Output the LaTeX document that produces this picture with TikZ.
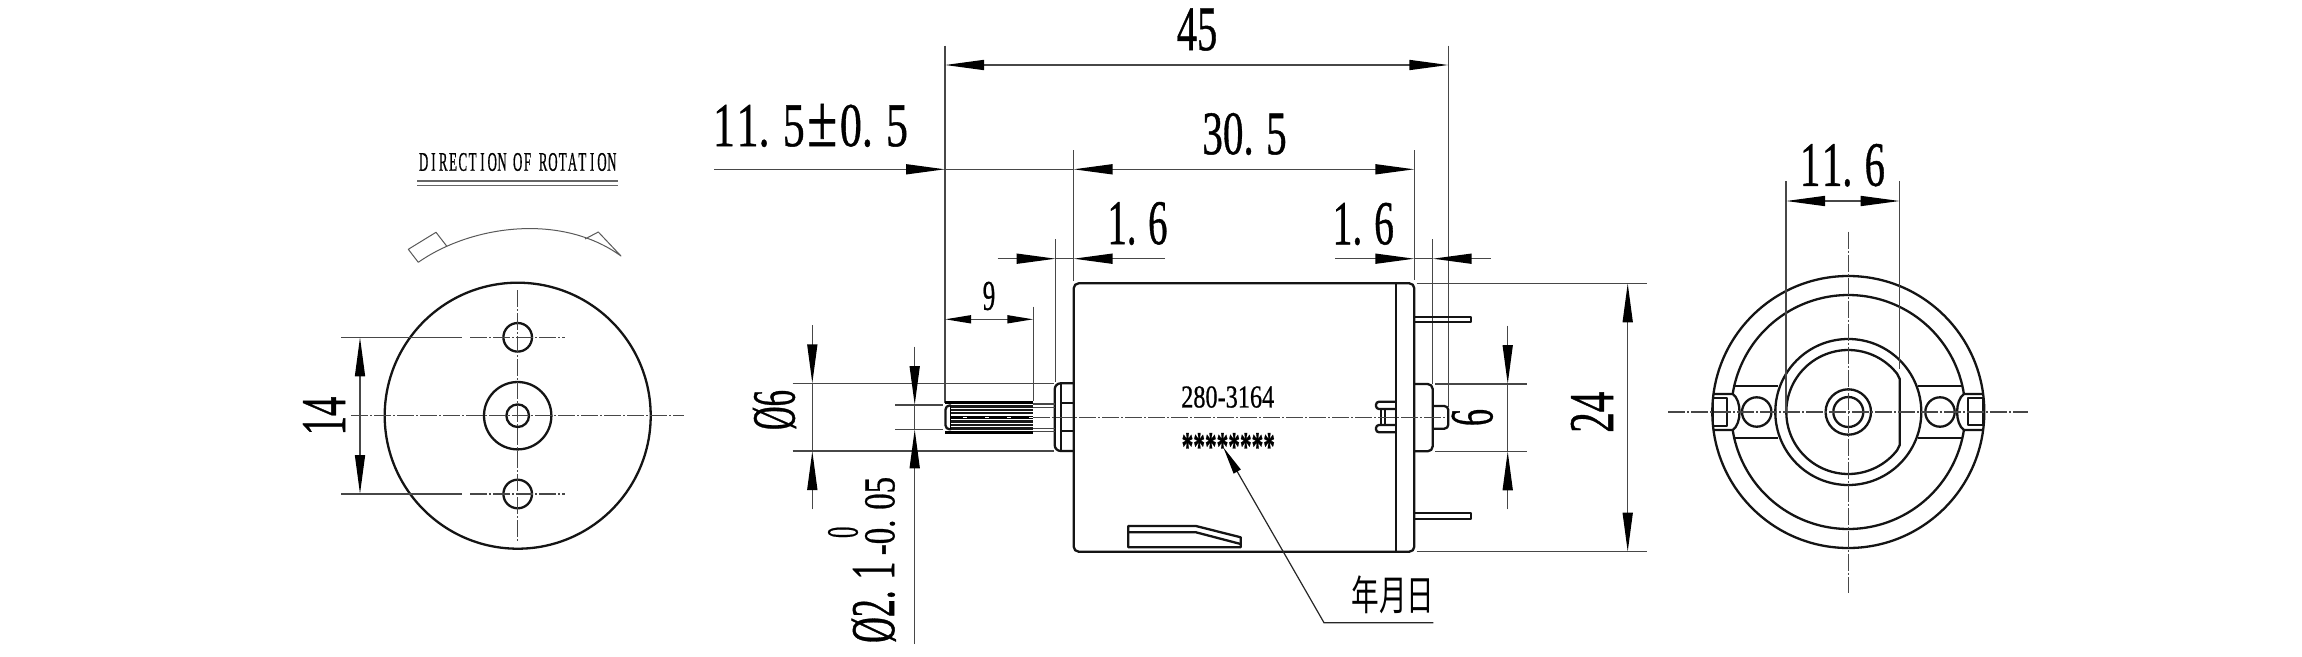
\documentclass[tikz,border=0pt]{standalone}
\usepackage{fontspec}
\usepackage{graphicx}
\usetikzlibrary{arrows.meta}
\setmainfont[FakeBold=0.8]{Liberation Serif}
\newfontfamily\cjkf{Noto Sans CJK SC}
\newcommand{\lbl}[7][]{\node[inner sep=0pt,outer sep=0pt,#1] (#2) at (#3,#4) {\resizebox*{#5pt}{#6pt}{#7}};}
\newcommand{\dt}{.\kern.3em }
\newcommand{\phisym}{\rule{0pt}{.68em}\smash{Ø}}
\newcommand{\plusmin}{\resizebox*{.68em}{.676em}{±}}
\makeatletter
\newcommand{\monow}[1]{\@tfor\mc:=#1\do{\makebox[.76em]{\mc}}}
\makeatother
\tikzset{
  part/.style={line width=2.3pt,black!92,line join=round},
  thinl/.style={line width=1.5pt,black!72},
  dimend/.style={thinl,-{Triangle[length=39pt,width=10pt,black]}},
  dimboth/.style={thinl,{Triangle[length=39pt,width=10pt,black]}-{Triangle[length=39pt,width=10pt,black]}},
  smallboth/.style={thinl,{Triangle[length=26pt,width=8pt,black]}-{Triangle[length=26pt,width=8pt,black]}},
  centre/.style={line width=1.4pt,black!72,dash pattern=on 17pt off 2pt on 2pt off 2pt},
  sketch/.style={line width=1pt,black!65,line join=round},
}
\begin{document}
\begin{tikzpicture}[x=1pt,y=-1pt]
\useasboundingbox (0,0) rectangle (2302,656);
\fill[white] (0,0) rectangle (2302,656);

% ---------- left view
\lbl{rottext}{517.7}{162}{198}{18}{\monow{DIRECTION}\kern.45em\monow{OF}\kern.45em\monow{ROTATION}}
\draw[line width=1.3pt,black!60] (417,181) -- (618,181) (417,185.7) -- (618,185.7);
\draw[sketch] (418.3,262.3) .. controls (470,226) and (560,212) .. (621,256) -- (598.3,232) -- (585,239);
\draw[sketch] (418.3,262.3) -- (408.3,249.3) -- (436,232.3) -- (447,246.5);
\draw[part] (517.7,415.7) circle (133pt);
\draw[part] (517.7,415.7) circle (33.7pt);
\draw[part] (517.7,415.7) circle (11.3pt);
\draw[part] (517.7,337.3) circle (14.3pt);
\draw[part] (517.7,494) circle (14.3pt);
\draw[centre] (351,415.7) -- (684,415.7);
\draw[centre] (517.7,290) -- (517.7,541);
\draw[thinl] (341,337.3) -- (461.7,337.3) (341,494) -- (461.7,494);
\draw[centre] (470,337.3) -- (565,337.3);
\draw[centre] (470,494) -- (565,494);
\draw[dimboth] (360,337.3) -- (360,494);
\lbl[rotate=90]{d14}{324}{416}{38.5}{42}{14}

% ---------- main view: dimensions
\draw[thinl] (945,45.7) -- (945,402.7);
\draw[thinl] (1448.3,45.7) -- (1448.3,407);
\draw[thinl] (1073.5,150) -- (1073.5,281);
\draw[thinl] (1414.3,150) -- (1414.3,280);
\draw[thinl] (1055.7,239) -- (1055.7,382);
\draw[thinl] (1432.7,239) -- (1432.7,384);
\draw[thinl] (1033.3,306.7) -- (1033.3,401);
\draw[dimboth] (945,65) -- (1448.3,65);
\draw[dimboth] (1073.5,169.3) -- (1414.3,169.3);
\draw[dimend] (714,169.3) -- (945,169.3);
\draw[thinl] (945,169.3) -- (1073.5,169.3);
\draw[dimend] (997.7,258.7) -- (1055.7,258.7);
\draw[thinl] (1055.7,258.7) -- (1073.5,258.7);
\draw[dimend] (1165,258.7) -- (1073.5,258.7);
\draw[dimend] (1335,258.7) -- (1414.3,258.7);
\draw[thinl] (1414.3,258.7) -- (1432.7,258.7);
\draw[dimend] (1490.7,258.7) -- (1432.7,258.7);
\draw[smallboth] (945,319.3) -- (1033.3,319.3);
\lbl{d45}{1197}{29.5}{40.6}{42.4}{45}
\lbl{d305}{1244.5}{134}{84.4}{42}{30\dt 5}
\lbl{d115}{810.5}{125.5}{195}{43}{1\kern.04em 1\dt 5\kern.06em \plusmin\kern.06em 0\dt 5}
\lbl{d16a}{1137.5}{223.5}{60}{43}{1\dt 6}
\lbl{d16b}{1363.3}{224}{61.3}{42.3}{1\dt 6}
\lbl{d9}{989}{296}{12.5}{28.5}{9}

% ---------- main view: body
\draw[part,rounded corners=5pt] (1073.7,283.3) rectangle (1414.3,551.7);
\draw[part] (1395.7,283.3) -- (1395.7,551.7);
\draw[part] (1414.3,316.7) -- (1471,316.7) -- (1471,322) -- (1414.3,322);
\draw[part] (1414.3,513.3) -- (1471,513.3) -- (1471,519) -- (1414.3,519);
\draw[part,rounded corners=5pt] (1414.3,384) -- (1432.7,384) -- (1432.7,451.3) -- (1414.3,451.3);
\draw[part,rounded corners=4pt] (1432.7,406) -- (1448.3,406) -- (1448.3,428.7) -- (1432.7,428.7);
\draw[part,rounded corners=3pt] (1395.7,401.7) -- (1376,401.7) -- (1376,409) -- (1395.7,409);
\draw[part,rounded corners=3pt] (1395.7,425) -- (1376,425) -- (1376,432.3) -- (1395.7,432.3);
\draw[part] (1380.7,409) -- (1380.7,425) (1385,409) -- (1385,425);
% label plate
\draw[part] (1128.3,526) -- (1196,526) -- (1240.7,537.3) -- (1240.7,547.3) -- (1128.3,547.3) -- cycle;
\draw[part] (1128.3,532.3) -- (1196,532.3) -- (1240.7,544);
% boss
\draw[part,rounded corners=6pt] (1074,383.3) -- (1054.7,383.3) -- (1054.7,451) -- (1074,451);
\draw[part] (1061.3,383.3) -- (1061.3,451) (1061.3,402.7) -- (1074,402.7) (1061.3,430.7) -- (1074,430.7);
% shaft
\draw[thinl] (1033.3,404) -- (1055,404) (1033.3,407.7) -- (1055,407.7) (1033.3,428.3) -- (1055,428.3) (1033.3,431.7) -- (1055,431.7);
\draw[line width=2.6pt,black] (945,402.7) -- (1033.3,402.7) (945,432.7) -- (1033.3,432.7);
\foreach \ry in {406.5,409.7,413,421.5,425,428.5}
  \draw[line width=2.1pt,black!90] (950,\ry) -- (1033.3,\ry);
\draw[part,rounded corners=4pt] (951,405.5) -- (945.5,405.5) -- (945.5,429.3) -- (951,429.3);
\draw[line width=1.5pt,black] (950.5,405.5) -- (950.5,429.3);
\draw[centre] (1033.3,417.3) -- (1445,417.3);
\draw[line width=2.6pt,black] (950,417.3) -- (1033.3,417.3);
\foreach \wx in {965,986.7,1008.7,1030.7}
  \fill[white] (\wx-2,416.5) rectangle (\wx+2,418.1);
% text on body
\lbl{partno}{1227.7}{397}{93}{21.5}{280-3164}
\lbl{stars}{1228.3}{446.5}{93.3}{27}{\bfseries ********}
\draw[thinl,black!85,line width=1.2pt,{Triangle[length=28pt,width=8pt,black]}-] (1223.3,447.3) -- (1324,622.7) -- (1433.3,622.7);
\lbl{ymd}{1393}{595.3}{83}{38}{\cjkf 年月日}

% ---------- diameter dims
\draw[thinl] (792.7,383.3) -- (1054,383.3) (792.7,451) -- (1054,451);
\draw[thinl] (895,405) -- (943,405) (895,429.3) -- (943,429.3);
\draw[dimend] (812.3,325) -- (812.3,383.3);
\draw[dimend] (812.3,509.3) -- (812.3,451);
\draw[thinl] (812.3,383.3) -- (812.3,451);
\draw[dimend] (914.7,346.7) -- (914.7,405);
\draw[dimend] (914.7,644) -- (914.7,429.3);
\draw[thinl] (914.7,405) -- (914.7,429.3);
\lbl[rotate=90]{dphi6}{774}{410}{40}{42.3}{\phisym 6}
\lbl[rotate=90]{dphim}{873.3}{602.3}{81.3}{43.3}{\phisym 2\dt 1}
\lbl[rotate=90]{dphil}{880}{516}{78.3}{30}{-0\dt 05}
\lbl[rotate=90]{dphiu}{843}{532.3}{11.3}{30}{0}

% ---------- right of body
\draw[thinl] (1416.7,283.3) -- (1647.3,283.3) (1416.7,551.7) -- (1647.3,551.7);
\draw[dimboth] (1627.7,283.3) -- (1627.7,551.7);
\draw[thinl] (1435,384) -- (1527.3,384) (1435,451.3) -- (1527.3,451.3);
\draw[dimend] (1507.7,325.7) -- (1507.7,384);
\draw[dimend] (1507.7,509.3) -- (1507.7,451.3);
\draw[thinl] (1507.7,384) -- (1507.7,451.3);
\lbl[rotate=90]{d6}{1472.3}{417.5}{17}{41.3}{6}
\lbl[rotate=90]{d24}{1592}{412.2}{41}{42.3}{24}

% ---------- right view
\def\cxx{1848.3}\def\cyy{412}
\draw[part] (\cxx,\cyy) circle (136pt);
\draw[part] (\cxx,\cyy) circle (73pt);
\draw[part] (\cxx,\cyy) circle (22.7pt);
\draw[part] (\cxx,\cyy) circle (15pt);
\draw[part] plot[domain=188.85:351.15,samples=80] ({\cxx+117*cos(\x)},{\cyy-117*sin(\x)});
\draw[part] plot[domain=8.85:171.15,samples=80] ({\cxx+117*cos(\x)},{\cyy-117*sin(\x)});
\draw[part] plot[domain=38:322,samples=90] ({\cxx+62*cos(\x)},{\cyy+62*sin(\x)}) -- (1899.7,379) -- (1899.7,445) -- cycle;
\draw[part] (1733.5,386) -- (1778.3,386) (1733.5,438.3) -- (1778.3,438.3);
\draw[part] (1918.3,386) -- (1962.7,386) (1918.3,438.3) -- (1962.7,438.3);
\draw[part] (1756.7,412) circle (14.7pt);
\draw[part] (1940,412) circle (14.7pt);
\draw[part] (1712.7,397.7) rectangle (1726.7,425.7);
\draw[part] (1968.3,398.3) rectangle (1982.7,425);
\draw[part] (1713,394) -- (1732.7,394) .. controls (1741.8,400) and (1741.8,424) .. (1732.7,430) -- (1713,430);
\draw[part] (1983.5,394) -- (1964,394) .. controls (1954.8,400) and (1954.8,424) .. (1964,430) -- (1983.5,430);
\draw[centre] (1668.3,412) -- (2028.3,412);
\draw[centre] (1848.3,231.7) -- (1848.3,592.7);
\draw[thinl] (1786,181) -- (1786,412);
\draw[thinl] (1899.7,181) -- (1899.7,369);
\draw[dimboth] (1786,201) -- (1899.7,201);
\lbl{d116}{1842.5}{165.3}{85}{42.7}{1\kern.04em 1\dt 6}
\end{tikzpicture}
\end{document}
